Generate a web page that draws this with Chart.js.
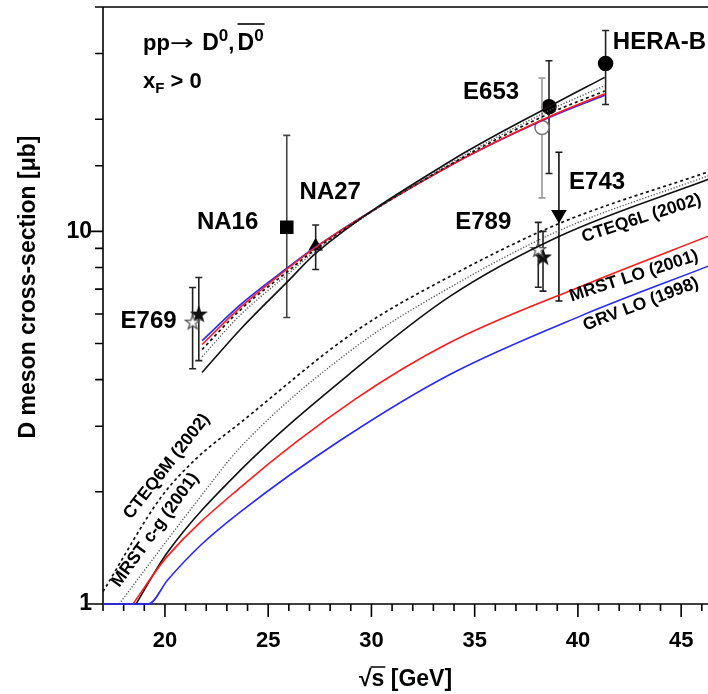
<!DOCTYPE html>
<html><head><meta charset="utf-8">
<script src="https://cdn.jsdelivr.net/npm/chart.js@4/dist/chart.umd.min.js"></script>
<style>html,body{margin:0;padding:0;background:#fff}</style>
</head><body>
<canvas id="c" width="708" height="694"></canvas>
<script>
// ---------------- DATA ----------------
// Absolute LO predictions (lower group)
const cteq6mX = [17.0, 19.8, 21.5, 23.67, 29.2, 33.8, 39.1, 46.4];
const cteq6mY = [1.08, 1.93, 2.45, 3.07, 5.38, 7.57, 10.5, 14.5];
const mrstcgX = [17.78, 21.5, 23.67, 29.2, 33.8, 39.1, 46.4];
const mrstcgY = [1.0, 1.87, 2.64, 4.88, 7.07, 10.05, 14.15];
const cteq6lX = [18.6, 20.1, 23.67, 29.2, 33.8, 39.1, 46.4];
const cteq6lY = [1.0, 1.37, 2.29, 4.26, 6.69, 9.7, 13.85];
const mrstloX = [18.45, 20.1, 23.67, 29.2, 33.8, 40.26, 46.4];
const mrstloY = [1.0, 1.34, 2.06, 3.54, 5.03, 7.16, 9.75];
const grvloX  = [17.0, 19.2, 20.13, 21.74, 23.67, 28.5, 33.8, 40.2, 46.4];
const grvloY  = [1.0, 1.0, 1.16, 1.44, 1.77, 2.75, 4.13, 5.95, 8.1];

// Curves normalised to the data (upper band)
const bandX       = [21.8, 23.67, 25.95, 27.35, 33.8, 38.6, 41.3];
const bandCteq6l  = [4.18, 5.47, 7.34, 8.78, 15.4, 21.6, 25.9];
const bandMrstcg  = [4.61, 5.98, 7.67, 8.9, 15.2, 21.1, 24.6];
const bandCteq6m  = [4.82, 6.17, 7.81, 9.0, 15.1, 20.7, 23.8];
const bandMrstlo  = [4.97, 6.27, 7.95, 9.1, 15.0, 20.3, 23.4];
const bandGrvlo   = [5.09, 6.37, 8.0, 9.13, 15.0, 20.2, 23.2];

// Measurements
const expNames   = ['E769 (p)', 'E769', 'NA16', 'NA27', 'E653 (p)', 'E653', 'HERA-B', 'E743', 'E789 (p)', 'E789'];
const expSqrtS   = [21.34, 21.64, 25.90, 27.30, 38.26, 38.60, 41.34, 39.08, 38.08, 38.31];
const expSigma   = [5.69, 5.98, 10.25, 9.12, 19.0, 21.6, 28.2, 11.1, 8.91, 8.51];
const expErrLow  = [4.28, 4.50, 5.87, 7.90, 12.3, 14.3, 21.9, 6.5, 7.08, 6.91];
const expErrHigh = [7.07, 7.52, 18.1, 10.4, 25.8, 28.7, 34.6, 16.3, 10.57, 10.0];

// Axis ticks
const xMajorTicks = [20, 25, 30, 35, 40, 45];
const yLabelTicks = [1, 10];

// Text labels
const expLabelText = ['E769', 'NA16', 'NA27', 'E653', 'HERA-B', 'E743', 'E789'];
const expLabelX    = [17.85, 21.55, 26.52, 34.44, 41.69, 39.57, 34.06];
const expLabelY    = [5.73, 10.57, 12.73, 23.6, 32.2, 13.5, 10.57];
const curveLabelText  = ['CTEQ6L (2002)', 'MRST LO (2001)', 'GRV LO (1998)', 'CTEQ6M (2002)', 'MRST c-g (2001)'];
const curveLabelX     = [43.08, 42.71, 43.05, 20.09, 19.53];
const curveLabelY     = [10.84, 7.58, 6.37, 2.34, 1.58];
const curveLabelAngle = [-18, -18, -21, -52, -54];

// ---------------- STYLE / BUILD ----------------
const FONT = "'Liberation Sans', Arial, Helvetica, sans-serif";
const BLUE = 'rgb(40,40,255)', RED = 'rgb(255,25,25)', GREY = '#555';
const xy = (xs, ys) => xs.map((x, i) => ({x, y: ys[i]}));
function curve(label, xs, ys, color, dash, width) {
  return {type: 'line', label, data: xy(xs, ys), borderColor: color, borderWidth: width || 1.6,
    borderDash: dash || [], pointRadius: 0, fill: false, cubicInterpolationMode: 'monotone', clip: 3};
}
function starCanvas(fill, stroke) {
  const c = document.createElement('canvas'); c.width = c.height = 18;
  const g = c.getContext('2d');
  g.beginPath();
  for (let i = 0; i < 10; i++) {
    const r = i % 2 ? 3.0 : 7.5; const a = -Math.PI / 2 + i * Math.PI / 5;
    g.lineTo(9 + r * Math.cos(a), 9 + r * Math.sin(a));
  }
  g.closePath(); g.fillStyle = fill; g.fill(); g.strokeStyle = stroke; g.lineWidth = 1.3; g.stroke();
  return c;
}
const openStar = starCanvas('#fff', '#555');
const fullStar = starCanvas('#111', '#111');
const markerStyle = [
  {style: openStar, r: 9, bar: '#222'},
  {style: fullStar, r: 9, bar: '#222'},
  {style: 'rect', r: 8.5, bg: '#000', bc: '#000', bar: '#444'},
  {style: 'triangle', r: 7, bg: '#000', bc: '#000', bar: '#222'},
  {style: 'circle', r: 7, bg: '#fff', bc: '#777', bar: '#999'},
  {style: 'circle', r: 7, bg: '#000', bc: '#000', bar: '#222'},
  {style: 'circle', r: 7, bg: '#000', bc: '#000', bar: '#222'},
  {style: 'triangle', r: 7.5, rot: 180, bg: '#000', bc: '#000', bar: '#111'},
  {style: openStar, r: 9, bar: '#222'},
  {style: fullStar, r: 9, bar: '#222'}
];
const markerSets = expNames.map((n, i) => {
  const s = markerStyle[i];
  return {type: 'scatter', label: n, data: [{x: expSqrtS[i], y: expSigma[i]}],
    errLo: [expErrLow[i]], errHi: [expErrHigh[i]], barColor: s.bar,
    pointStyle: s.style, pointRadius: s.r, pointHoverRadius: s.r, pointRotation: s.rot || 0,
    backgroundColor: s.bg || '#000', borderColor: s.bc || '#000', borderWidth: 1.5, clip: false};
});

const datasets = [
  curve('GRV LO (1998)', grvloX, grvloY, BLUE),
  curve('MRST LO (2001)', mrstloX, mrstloY, RED),
  curve('CTEQ6L (2002)', cteq6lX, cteq6lY, '#111'),
  curve('MRST c-g (2001)', mrstcgX, mrstcgY, GREY, [1.2, 1.8], 1.4),
  curve('CTEQ6M (2002)', cteq6mX, cteq6mY, '#111', [3, 3], 1.7),
  curve('CTEQ6L norm', bandX, bandCteq6l, '#111'),
  curve('MRST c-g norm', bandX, bandMrstcg, GREY, [1.2, 1.8], 1.4),
  curve('CTEQ6M norm', bandX, bandCteq6m, '#111', [3, 3], 1.7),
  curve('MRST LO norm', bandX, bandMrstlo, RED),
  curve('GRV LO norm', bandX, bandGrvlo, BLUE),
  ...markerSets
];

const errorBars = {
  id: 'errorBars',
  beforeDatasetDraw(chart, args) {
    const ds = chart.data.datasets[args.index];
    if (!ds.errLo) return;
    const {ctx, scales: {x, y}} = chart;
    ctx.save(); ctx.strokeStyle = ds.barColor; ctx.lineWidth = 1.6;
    ds.data.forEach((p, i) => {
      const px = x.getPixelForValue(p.x), y1 = y.getPixelForValue(ds.errLo[i]), y2 = y.getPixelForValue(ds.errHi[i]);
      ctx.beginPath();
      ctx.moveTo(px, y1); ctx.lineTo(px, y2);
      ctx.moveTo(px - 3.5, y1); ctx.lineTo(px + 3.5, y1);
      ctx.moveTo(px - 3.5, y2); ctx.lineTo(px + 3.5, y2);
      ctx.stroke();
    });
    ctx.restore();
  }
};

const axesPlugin = {
  id: 'axesPlugin',
  beforeDatasetsDraw(chart) {
    const {ctx, chartArea: a, scales: {x, y}} = chart;
    ctx.save(); ctx.strokeStyle = '#000'; ctx.lineWidth = 1.6; ctx.lineCap = 'butt';
    ctx.beginPath();
    ctx.moveTo(a.left, a.bottom); ctx.lineTo(a.left, a.top); ctx.lineTo(a.right, a.top);
    ctx.moveTo(a.left, a.bottom); ctx.lineTo(a.right, a.bottom);
    for (let v = Math.ceil(x.min); v <= x.max; v++) {
      const px = x.getPixelForValue(v), len = xMajorTicks.includes(v) ? 13 : 7;
      ctx.moveTo(px, a.bottom); ctx.lineTo(px, a.bottom + len);
    }
    y.ticks.forEach(t => {
      const py = y.getPixelForValue(t.value), len = yLabelTicks.includes(t.value) ? 15 : 8;
      ctx.moveTo(a.left - len, py); ctx.lineTo(a.left, py);
    });
    ctx.stroke(); ctx.restore();
  },
  afterDraw(chart) {
    const {ctx, chartArea: a, scales: {x, y}} = chart;
    ctx.save(); ctx.fillStyle = '#000'; ctx.strokeStyle = '#000';
    // experiment labels
    ctx.font = `bold 24px ${FONT}`; ctx.textAlign = 'left'; ctx.textBaseline = 'middle';
    expLabelText.forEach((t, i) => ctx.fillText(t, x.getPixelForValue(expLabelX[i]), y.getPixelForValue(expLabelY[i])));
    // curve labels
    ctx.font = `bold 17.5px ${FONT}`; ctx.textAlign = 'center';
    curveLabelText.forEach((t, i) => {
      ctx.save();
      ctx.translate(x.getPixelForValue(curveLabelX[i]), y.getPixelForValue(curveLabelY[i]));
      ctx.rotate(curveLabelAngle[i] * Math.PI / 180);
      ctx.fillText(t, 0, 0); ctx.restore();
    });
    // process annotation
    ctx.textAlign = 'left'; ctx.textBaseline = 'alphabetic';
    let cx = a.left + 40; const b1 = a.top + 43;
    const run = (t, size, dy) => { ctx.font = `bold ${size}px ${FONT}`; ctx.fillText(t, cx, b1 + (dy || 0)); cx += ctx.measureText(t).width; };
    run('pp', 22);
    ctx.font = `22px 'DejaVu Sans', sans-serif`;
    const aw = ctx.measureText('\u2192').width;
    ctx.save(); ctx.translate(cx, b1); ctx.scale(1.3, 1); ctx.fillText('\u2192', 0, 0); ctx.restore();
    cx += aw * 1.3 + 2;
    run(' D', 23); run('0', 17, -9); run(', ', 22); cx -= 3;
    const ol0 = cx; run('D', 23); run('0', 17, -9);
    ctx.lineWidth = 1.6; ctx.beginPath(); ctx.moveTo(ol0, b1 - 26); ctx.lineTo(cx + 1, b1 - 26); ctx.stroke();
    cx = a.left + 40; const b2 = a.top + 81;
    ctx.font = `bold 22px ${FONT}`; ctx.fillText('x', cx, b2); cx += ctx.measureText('x').width;
    ctx.font = `bold 15px ${FONT}`; ctx.fillText('F', cx, b2 + 5); cx += ctx.measureText('F').width;
    ctx.font = `bold 22px ${FONT}`; ctx.fillText(' > 0', cx, b2);
    // axis titles
    ctx.font = `bold 23px ${FONT}`;
    const t1 = '\u221A', t2 = 's [GeV]';
    const w1 = ctx.measureText(t1).width, w2 = ctx.measureText(t2).width, ws = ctx.measureText('s').width;
    let tx = (a.left + a.right) / 2 - (w1 + w2) / 2; const ty = 686;
    ctx.fillText(t1, tx, ty); ctx.fillText(t2, tx + w1, ty);
    ctx.lineWidth = 1.5; ctx.beginPath(); ctx.moveTo(tx + w1 - 1, ty - 19); ctx.lineTo(tx + w1 + ws + 1, ty - 19); ctx.stroke();
    ctx.save(); ctx.translate(29, 287); ctx.rotate(-Math.PI / 2);
    ctx.textAlign = 'center'; ctx.textBaseline = 'middle';
    ctx.fillText('D meson cross-section [\u03BCb]', 0, 0); ctx.restore();
    ctx.restore();
  }
};

new Chart(document.getElementById('c'), {
  data: {datasets},
  options: {
    responsive: false, animation: false, devicePixelRatio: 1,
    layout: {autoPadding: false, padding: {top: 7, right: 0, left: 0, bottom: 0}},
    plugins: {legend: {display: false}, tooltip: {enabled: false}},
    scales: {
      x: {type: 'linear', min: 17, max: 46.3,
        grid: {display: false, drawTicks: false}, border: {display: false},
        ticks: {stepSize: 1, autoSkip: false, maxRotation: 0, padding: 24, color: '#000',
          font: {family: FONT, size: 22, weight: 'bold'},
          callback: v => xMajorTicks.includes(v) ? String(v) : ''},
        afterFit: s => { s.height = 90; s.paddingLeft = 0; s.paddingRight = 0; }},
      y: {type: 'logarithmic', min: 1, max: 40,
        grid: {display: false, drawTicks: false}, border: {display: false},
        ticks: {padding: 11, color: '#000', autoSkip: false,
          font: {family: FONT, size: 23, weight: 'bold'},
          callback: v => yLabelTicks.includes(v) ? String(v) : ''},
        afterFit: s => { s.width = 103; s.paddingTop = 0; s.paddingBottom = 0; }}
    }
  },
  plugins: [axesPlugin, errorBars]
});
</script>
</body></html>
